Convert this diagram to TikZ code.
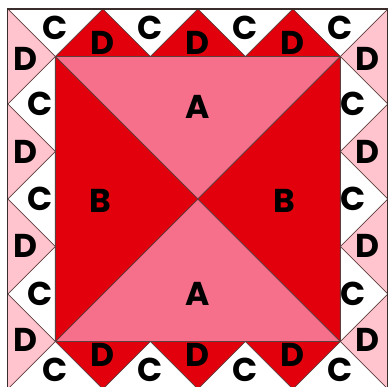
\documentclass[tikz,border=0pt]{standalone}
\usepackage{fontspec}
\setmainfont{Poppins}
\definecolor{qred}{RGB}{225,0,12}
\definecolor{qpink}{RGB}{246,112,140}
\definecolor{qlight}{RGB}{255,196,206}
\definecolor{qline}{RGB}{95,62,62}
\definecolor{qedge}{RGB}{60,45,45}
\begin{document}
\begin{tikzpicture}[x=1pt,y=1pt,
  seam/.style={draw=qline,line width=0.7pt,line join=round},
  lab/.style={font=\fontsize{33}{33}\selectfont\bfseries,inner sep=0pt,text=black}]
\useasboundingbox (-197.8,-187) rectangle (190.2,199);
% border strips
\fill[white] (-190,190) -- (190,190) -- (142.5,142.5) -- (-142.5,142.5) -- cycle;
\fill[white] (-190,-190) -- (190,-190) -- (142.5,-142.5) -- (-142.5,-142.5) -- cycle;
\fill[qlight] (-190,190) -- (-142.5,142.5) -- (-142.5,-142.5) -- (-190,-190) -- cycle;
\fill[qlight] (190,190) -- (142.5,142.5) -- (142.5,-142.5) -- (190,-190) -- cycle;
% red geese top and bottom
\foreach \x in {-95,0,95} {
  \filldraw[fill=qred,seam] (\x-47.5,142.5) -- (\x,190) -- (\x+47.5,142.5);
  \filldraw[fill=qred,seam] (\x-47.5,-142.5) -- (\x,-190) -- (\x+47.5,-142.5);
}
% white geese left and right
\foreach \y in {-95,0,95} {
  \filldraw[fill=white,seam] (-142.5,\y+47.5) -- (-190,\y) -- (-142.5,\y-47.5);
  \filldraw[fill=white,seam] (142.5,\y+47.5) -- (190,\y) -- (142.5,\y-47.5);
}
% corner diagonals
\draw[seam] (-190,190) -- (-142.5,142.5);
\draw[seam] (190,190) -- (142.5,142.5);
\draw[seam] (-190,-190) -- (-142.5,-142.5);
\draw[seam] (190,-190) -- (142.5,-142.5);
% centre square
\coordinate (O) at (0,0);
\filldraw[fill=qpink,seam] (-142.5,142.5) -- (142.5,142.5) -- (O) -- cycle;
\filldraw[fill=qpink,seam] (-142.5,-142.5) -- (142.5,-142.5) -- (O) -- cycle;
\filldraw[fill=qred,seam] (-142.5,142.5) -- (-142.5,-142.5) -- (O) -- cycle;
\filldraw[fill=qred,seam] (142.5,142.5) -- (142.5,-142.5) -- (O) -- cycle;
\draw[seam] (-142.5,-142.5) rectangle (142.5,142.5);
% outer edge
\draw[qedge,line width=1.4pt] (-190,-190) rectangle (190,190);
% labels centre
\node[lab] (A1) at (0,92.5) {A};
\node[lab] (A2) at (0,-95) {A};
\node[lab] (B1) at (-97.2,-2) {B};
\node[lab] (B2) at (86.7,-2) {B};
% labels top / bottom
\foreach \x [count=\i] in {-142.5,-47.5,47.5,142.5} {
  \node[lab] (tc\i) at (\x,171) {C};
  \node[lab] (bc\i) at (\x,-170.5) {C};
}
\foreach \x [count=\i] in {-95,0,95} {
  \node[lab] (td\i) at (\x,156.5) {D};
  \node[lab] (bd\i) at (\x,-156) {D};
}
% labels left / right
\foreach \y [count=\i] in {140,47,-47,-141} {
  \node[lab] (ld\i) at (-172.8,\y) {D};
  \node[lab] (rd\i) at (169.5,\y) {D};
}
\foreach \y [count=\i] in {95,0,-95} {
  \node[lab] (lc\i) at (-157.3,\y) {C};
  \node[lab] (rc\i) at (155.7,\y) {C};
}
\end{tikzpicture}
\end{document}
